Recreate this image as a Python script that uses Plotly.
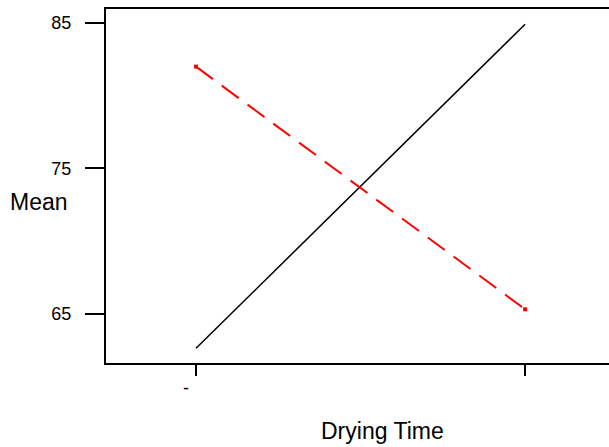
import plotly.graph_objects as go

# Factor levels of drying time and the mean response at each level
levels = [0, 1]
level_labels = ["-\u00a0\u00a0\u00a0\u00a0", ""]
mean_solid = [62.64, 84.91]
mean_dashed = [82.0, 65.32]
y_ticks = [65, 75, 85]
y_tick_labels = ["65", "75", "85"]

FONT = "Liberation Sans, Arial, sans-serif"

fig = go.Figure()
fig.add_trace(go.Scatter(
    x=levels, y=mean_solid, mode="lines",
    line=dict(color="black", width=1.5),
    showlegend=False,
))
fig.add_trace(go.Scatter(
    x=levels, y=mean_dashed, mode="lines+markers",
    line=dict(color="#ff0000", width=2, dash="21px,11px"),
    marker=dict(symbol="square", size=4, color="#ff0000"),
    showlegend=False,
))

fig.update_layout(
    width=609, height=447,
    margin=dict(l=106, r=0, t=9, b=84),
    plot_bgcolor="white", paper_bgcolor="white",
    font=dict(family=FONT, color="black"),
    xaxis=dict(
        range=[-0.2736, 1.255],
        tickmode="array", tickvals=levels, ticktext=level_labels,
        ticks="outside", ticklen=11, tickwidth=2, tickcolor="black",
        showline=True, linewidth=2, linecolor="black", mirror=True,
        showgrid=False, zeroline=False,
        tickfont=dict(size=18, family=FONT),
        ticklabelstandoff=-4,
    ),
    yaxis=dict(
        range=[61.63, 85.96],
        tickmode="array", tickvals=y_ticks, ticktext=y_tick_labels,
        ticks="outside", ticklen=19, tickwidth=2, tickcolor="black",
        showline=True, linewidth=2, linecolor="black",
        showgrid=False, zeroline=False,
        tickfont=dict(size=18, family=FONT),
        ticklabelstandoff=10,
    ),
    annotations=[
        dict(text="Mean", showarrow=False, font=dict(size=23, family=FONT)),
        dict(text="Drying Time", showarrow=False, font=dict(size=23, family=FONT)),
    ],
)

# Place axis titles in pixel terms relative to the plotting area
plot_w = 609 - 106
plot_h = 447 - 9 - 84
fig.layout.annotations[0].update(
    xref="paper", yref="paper",
    x=(8 - 106) / plot_w, y=(447 - 84 - 202) / plot_h,
    xanchor="left", yanchor="middle",
)
fig.layout.annotations[1].update(
    xref="paper", yref="paper",
    x=(382 - 106) / plot_w, y=(447 - 84 - 431) / plot_h,
    xanchor="center", yanchor="middle",
)

fig.write_html("out.html")
